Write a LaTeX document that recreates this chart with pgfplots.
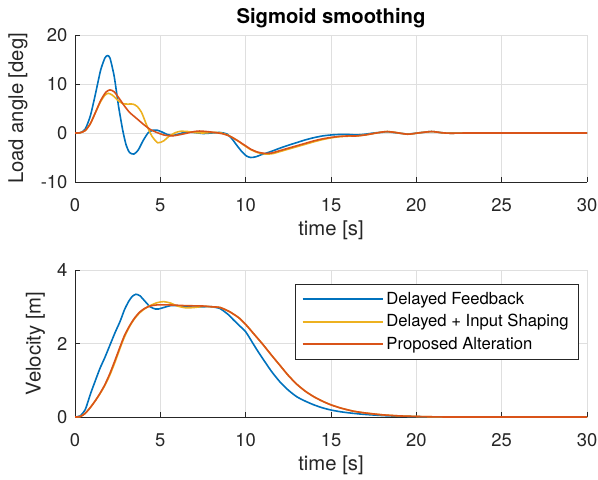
\documentclass[border=0pt]{standalone}
\usepackage{fontspec}
\setmainfont{TeX Gyre Heros}
\usepackage{pgfplots}
\pgfplotsset{compat=1.18}
\definecolor{mblue}{rgb}{0,0.447,0.741}
\definecolor{myellow}{rgb}{0.929,0.694,0.125}
\definecolor{mred}{rgb}{0.850,0.325,0.098}
\definecolor{axgray}{rgb}{0.15,0.15,0.15}
\definecolor{gridgray}{rgb}{0.875,0.875,0.875}
\pgfplotsset{mystyle/.style={
  scale only axis, width=384pt, height=110.25pt,
  xmin=0, xmax=30, xtick={0,5,...,30},
  axis x line*=bottom, axis y line*=left,
  axis line style={axgray, line width=0.5pt, -},
  tick align=inside, major tick length=4pt,
  tick style={axgray, line width=0.5pt},
  grid=major, major grid style={gridgray, line width=0.5pt},
  ticklabel style={font=\fontsize{13.8}{15}\selectfont, text=axgray},
  xticklabel style={yshift=-8.8pt},
  yticklabel style={xshift=-2.2pt},
  label style={font=\fontsize{15.2}{17}\selectfont, text=axgray},
  /pgf/number format/assume math mode=true,
  xlabel={time [s]},
  xlabel style={at={(axis description cs:0.5,0)}, anchor=center, yshift=-36.5pt},
  every axis plot/.append style={line width=1.2pt, smooth, tension=0.4},
}}
\begin{document}
\begin{tikzpicture}
\path[use as bounding box] (0,0) rectangle (448.5pt,359.25pt);
% ---------------- top axis ----------------
\begin{axis}[mystyle, at={(56.25pt,222.75pt)}, anchor=south west,
  ymin=-10, ymax=20, ytick={-10,0,10,20},
  ylabel={Load angle [deg]},
  ylabel style={at={(axis description cs:0,0.5)}, anchor=center, rotate=0, yshift=42.75pt},
  title={Sigmoid smoothing},
  title style={font=\bfseries\fontsize{15.2}{17}\selectfont, text=black,
    at={(axis description cs:0.5,1)}, anchor=base, yshift=2.5pt},
]
\addplot[mblue] coordinates {
(0,0) (0.3,0.05) (0.6,0.8) (0.9,3.5) (1.2,8.0) (1.5,12.8) (1.75,15.3) (1.9,15.8) (2.05,15.3)
(2.3,11.5) (2.55,5.5) (2.8,0.5) (3.0,-2.5) (3.2,-4.0) (3.45,-4.3) (3.7,-3.5) (4.0,-1.5)
(4.3,0.1) (4.6,0.6) (4.8,0.6) (5.1,0.2) (5.4,-0.3) (5.7,-0.5) (6.0,-0.3) (6.5,0.2) (7.0,0.1)
(7.5,-0.1) (8.0,0.0) (8.5,0.1) (8.9,-0.2) (9.2,-1.2) (9.5,-2.6) (9.8,-3.9) (10.05,-4.7)
(10.3,-5.0) (10.6,-4.85) (10.9,-4.45) (11.3,-4.0) (11.7,-3.5) (12.0,-3.1) (12.5,-2.5)
(13.0,-1.95) (13.5,-1.4) (14.0,-0.95) (14.5,-0.6) (15.0,-0.4) (15.5,-0.3) (16.0,-0.3)
(16.5,-0.4) (17.0,-0.25) (17.5,0.0) (18.0,0.15) (18.3,0.25) (18.8,0.05) (19.5,-0.2)
(20.2,0.05) (20.9,0.3) (21.5,0.05) (22.0,-0.05) (23,0) (26,0) (30,0)
};
\addplot[myellow] coordinates {
(0,0) (0.3,0.05) (0.6,0.5) (0.9,1.9) (1.2,4.2) (1.5,6.4) (1.75,7.7) (1.95,8.1) (2.2,7.7)
(2.5,6.7) (2.8,6.0) (3.1,5.9) (3.4,5.9) (3.65,5.4) (3.9,4.2) (4.2,1.6) (4.5,-0.6)
(4.85,-2.0) (5.2,-1.6) (5.5,-0.7) (5.9,0.1) (6.2,0.35) (6.6,0.3) (7.0,0.1) (7.5,0.0)
(8.0,0.1) (8.5,0.05) (9.0,-0.5) (9.5,-1.5) (9.9,-2.5) (10.3,-3.4) (10.7,-4.0) (11.2,-4.3)
(11.6,-4.2) (12.0,-3.8) (12.5,-3.3) (13.0,-2.8) (13.5,-2.3) (14.0,-1.8) (14.5,-1.35)
(15.0,-1.0) (15.5,-0.75) (16.0,-0.65) (16.5,-0.6) (17.0,-0.4) (17.5,-0.1) (18.0,0.2)
(18.3,0.3) (18.8,0.1) (19.5,-0.25) (20.2,0.05) (20.9,0.3) (21.5,0.05) (22.0,-0.05)
(23,0) (26,0) (30,0)
};
\addplot[mred] coordinates {
(0,0) (0.3,0.05) (0.6,0.5) (0.9,1.9) (1.2,4.2) (1.5,6.6) (1.8,8.3) (2.05,8.8) (2.3,8.4)
(2.6,7.0) (2.9,5.5) (3.2,4.2) (3.6,3.0) (4.0,1.8) (4.4,0.75) (4.8,0.1) (5.2,-0.4)
(5.5,-0.55) (5.8,-0.55) (6.2,-0.3) (6.6,0.0) (7.0,0.3) (7.3,0.4) (7.7,0.3) (8.2,0.1)
(8.7,-0.2) (9.1,-0.7) (9.5,-1.5) (9.9,-2.4) (10.3,-3.3) (10.7,-3.9) (11.1,-4.15)
(11.5,-4.1) (12.0,-3.6) (12.5,-3.1) (13.0,-2.6) (13.5,-2.1) (14.0,-1.6) (14.5,-1.2)
(15.0,-0.9) (15.5,-0.7) (16.0,-0.6) (16.5,-0.6) (17.0,-0.4) (17.5,-0.1) (18.0,0.2)
(18.3,0.3) (18.8,0.1) (19.5,-0.25) (20.2,0.05) (20.9,0.3) (21.5,0.05) (22.0,-0.05)
(23,0) (26,0) (30,0)
};
\end{axis}
% ---------------- bottom axis ----------------
\begin{axis}[mystyle, at={(56.25pt,46.5pt)}, anchor=south west,
  ymin=0, ymax=4, ytick={0,2,4},
  ylabel={Velocity [m]},
  ylabel style={at={(axis description cs:0,0.5)}, anchor=center, yshift=29.6pt},
  legend style={at={(0.983,0.905)}, anchor=north east, draw=axgray, line width=0.5pt,
    font=\fontsize{12.5}{14}\selectfont, text=black, row sep=2pt,
    inner xsep=5pt, inner ysep=4pt},
  legend cell align=left,
  legend image code/.code={\draw[#1, line width=1.5pt] (0pt,0pt) -- (60pt,0pt);},
]
\addplot[mblue] coordinates {
(0,0) (0.3,0.03) (0.6,0.2) (0.9,0.62) (1.2,1.0) (1.46,1.32) (1.75,1.62) (2.05,1.96)
(2.35,2.3) (2.64,2.6) (2.9,2.92) (3.15,3.15) (3.35,3.28) (3.57,3.34) (3.8,3.3) (4.1,3.15)
(4.4,3.0) (4.7,2.94) (4.9,2.94) (5.2,2.98) (5.6,3.03) (6.0,3.03) (6.5,3.0) (7.0,2.99)
(7.5,3.0) (8.0,3.0) (8.5,2.95) (9.0,2.78) (9.25,2.66) (9.6,2.5) (10.0,2.32) (10.43,2.0)
(10.7,1.8) (11.0,1.59) (11.5,1.25) (12.0,0.96) (12.5,0.73) (13.0,0.55) (13.5,0.43)
(14.0,0.33) (14.5,0.25) (15.0,0.19) (15.6,0.14) (16.3,0.1) (17,0.07) (18,0.04) (19,0.02)
(20,0.01) (21,0) (25,0) (30,0)
};
\addlegendentry{Delayed Feedback}
\addplot[myellow] coordinates {
(0,0) (0.3,0.01) (0.6,0.1) (0.9,0.26) (1.2,0.45) (1.46,0.63) (1.75,0.86) (2.05,1.15)
(2.35,1.5) (2.64,1.87) (2.9,2.18) (3.22,2.48) (3.5,2.68) (3.8,2.84) (4.1,2.95) (4.4,3.03)
(4.8,3.11) (5.2,3.14) (5.6,3.1) (6.0,3.02) (6.5,2.97) (7.0,2.98) (7.5,3.01) (8.0,3.0)
(8.5,2.98) (9.0,2.88) (9.25,2.81) (9.6,2.7) (10.0,2.52) (10.5,2.25) (11.0,1.98)
(11.5,1.69) (12.0,1.41) (12.5,1.13) (13.0,0.89) (13.5,0.7) (14.0,0.55) (14.5,0.43)
(15.0,0.33) (15.6,0.24) (16.3,0.16) (17,0.11) (18,0.06) (19,0.03) (20,0.015) (21,0.005)
(22,0) (25,0) (30,0)
};
\addlegendentry{Delayed + Input Shaping}
\addplot[mred] coordinates {
(0,0) (0.3,0.01) (0.6,0.1) (0.9,0.26) (1.2,0.45) (1.46,0.64) (1.75,0.88) (2.05,1.19)
(2.35,1.55) (2.64,1.91) (2.9,2.22) (3.22,2.5) (3.5,2.7) (3.8,2.86) (4.1,2.96) (4.4,3.02)
(4.8,3.05) (5.5,3.05) (6.5,3.03) (7.5,3.02) (8.0,3.0) (8.5,2.98) (9.0,2.88) (9.25,2.81)
(9.6,2.7) (10.0,2.52) (10.5,2.25) (11.0,1.98) (11.5,1.69) (12.0,1.41) (12.5,1.13)
(13.0,0.89) (13.5,0.7) (14.0,0.55) (14.5,0.43) (15.0,0.33) (15.6,0.24) (16.3,0.16)
(17,0.11) (18,0.06) (19,0.03) (20,0.015) (21,0.005) (22,0) (25,0) (30,0)
};
\addlegendentry{Proposed Alteration}
\end{axis}
\end{tikzpicture}
\end{document}
